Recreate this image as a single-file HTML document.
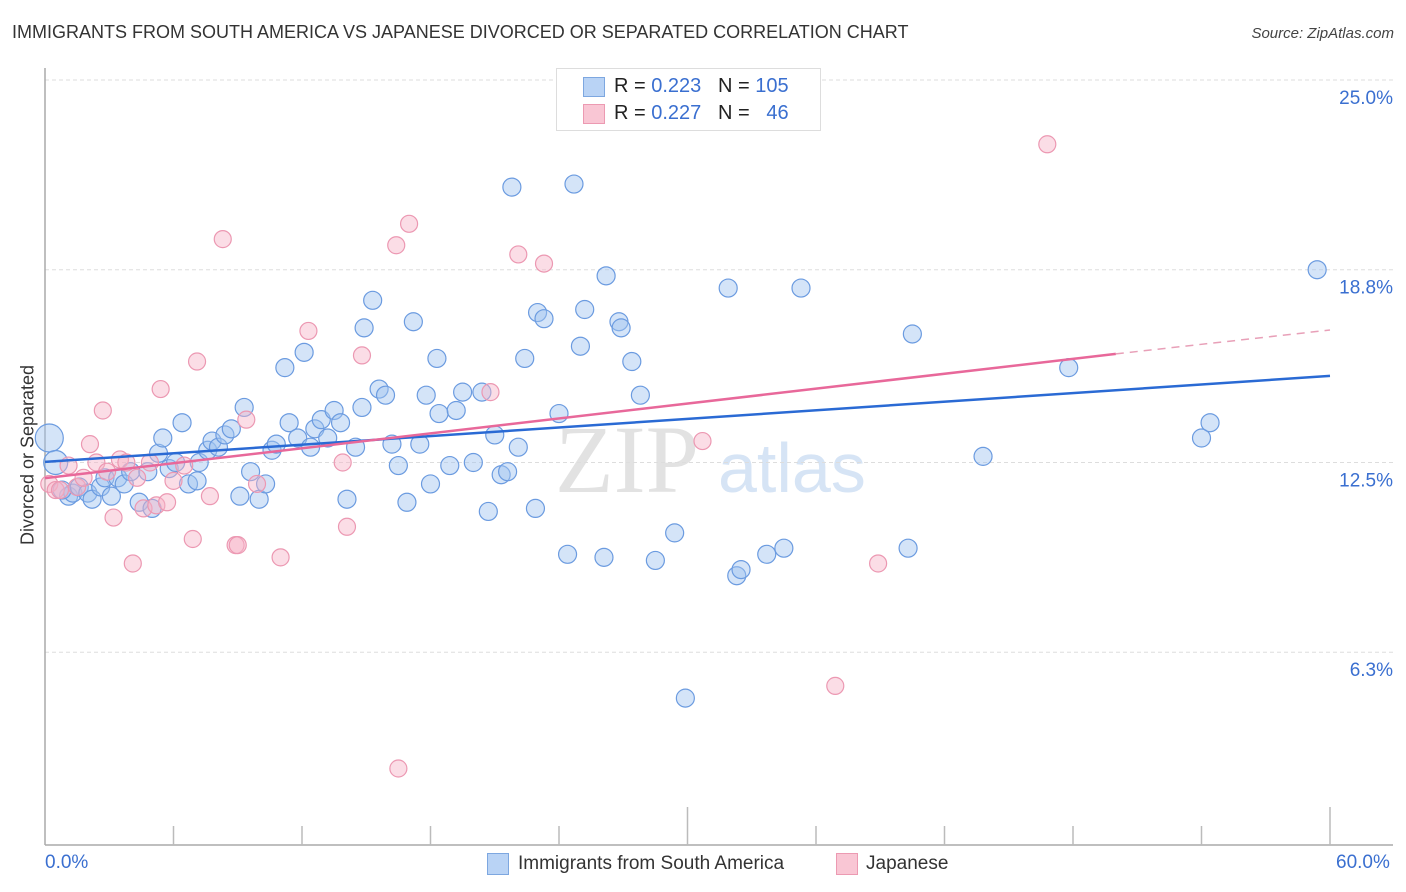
<!DOCTYPE html>
<html><head><meta charset="utf-8"><style>
body{margin:0;background:#fff;font-family:"Liberation Sans",sans-serif;}
#wrap{position:relative;width:1406px;height:892px;overflow:hidden;}
.t{position:absolute;white-space:nowrap;}
</style></head><body>
<div id="wrap">
<div class="t" style="left:12px;top:22px;font-size:18px;color:#333;">IMMIGRANTS FROM SOUTH AMERICA VS JAPANESE DIVORCED OR SEPARATED CORRELATION CHART</div>
<div class="t" style="right:12px;top:25px;font-size:15px;color:#444;font-style:italic;">Source: ZipAtlas.com</div>
<svg id="svg" width="1406" height="892" style="position:absolute;left:0;top:0">
<text x="555" y="492" font-family="Liberation Serif,serif" font-size="96" fill="#e2e2e2">ZIP</text>
<text x="718" y="492" font-family="Liberation Sans,sans-serif" font-size="70" fill="#d6e4f5">atlas</text>
</svg>
<div style="position:absolute;left:556px;top:68px;width:263px;height:61px;border:1px solid #ddd;background:#fff;">
<div style="position:absolute;left:26px;top:8px;width:20px;height:18px;background:#b9d3f5;border:1px solid #7da7e0;"></div>
<div class="t" style="left:57px;top:6px;font-size:20px;color:#222;">R = <span style="color:#3a6fd0">0.223</span>&nbsp;&nbsp;&nbsp;N = <span style="color:#3a6fd0">105</span></div>
<div style="position:absolute;left:26px;top:35px;width:20px;height:18px;background:#f9c6d4;border:1px solid #ec9ab2;"></div>
<div class="t" style="left:57px;top:33px;font-size:20px;color:#222;">R = <span style="color:#3a6fd0">0.227</span>&nbsp;&nbsp;&nbsp;N = &nbsp;&nbsp;<span style="color:#3a6fd0">46</span></div>
</div>
<div class="t" style="left:28px;top:455px;font-size:18px;color:#333;transform:translate(-50%,-50%) rotate(-90deg);">Divorced or Separated</div>
<div class="t" style="left:45px;top:852px;font-size:19px;color:#3a6fd0;">0.0%</div>
<div class="t" style="left:1336px;top:852px;font-size:19px;color:#3a6fd0;">60.0%</div>
<div style="position:absolute;left:487px;top:853px;width:20px;height:20px;background:#b9d3f5;border:1px solid #7da7e0;"></div>
<div class="t" style="left:518px;top:853px;font-size:19px;color:#333;">Immigrants from South America</div>
<div style="position:absolute;left:836px;top:853px;width:20px;height:20px;background:#f9c6d4;border:1px solid #ec9ab2;"></div>
<div class="t" style="left:866px;top:853px;font-size:19px;color:#333;">Japanese</div>
</div>
<script>
const yTicks=[25.0,18.8,12.5,6.3];
const yTickLabels=["25.0%","18.8%","12.5%","6.3%"];
const blueX=[0.2,0.5,1.1,1.3,0.8,1.6,2.0,2.2,2.6,2.8,3.1,3.4,3.7,4.0,4.4,4.8,5.0,5.3,5.5,5.8,6.1,6.4,6.7,7.1,7.2,7.6,7.8,8.1,8.4,8.7,9.1,9.3,9.6,10.0,10.3,10.6,10.8,11.2,11.4,11.8,12.1,12.4,12.6,12.9,13.2,13.5,13.8,14.1,14.5,14.8,14.9,15.3,15.6,15.9,16.2,16.5,16.9,17.2,17.5,17.8,18.0,18.3,18.4,18.9,19.2,19.5,20.0,20.4,20.7,21.0,21.3,21.6,21.8,22.1,22.4,22.9,23.0,23.3,24.0,24.4,24.7,25.0,25.2,26.1,26.2,26.8,26.9,27.4,27.8,28.5,29.4,29.9,31.9,32.3,32.5,33.7,34.5,35.3,40.3,40.5,43.8,47.8,54.0,54.4,59.4];
const blueY=[13.3,12.5,11.4,11.5,11.6,11.7,11.5,11.3,11.7,12.0,11.4,12.0,11.8,12.2,11.2,12.2,11.0,12.8,13.3,12.3,12.5,13.8,11.8,11.9,12.5,12.9,13.2,13.0,13.4,13.6,11.4,14.3,12.2,11.3,11.8,12.9,13.1,15.6,13.8,13.3,16.1,13.0,13.6,13.9,13.3,14.2,13.8,11.3,13.0,14.3,16.9,17.8,14.9,14.7,13.1,12.4,11.2,17.1,13.1,14.7,11.8,15.9,14.1,12.4,14.2,14.8,12.5,14.8,10.9,13.4,12.1,12.2,21.5,13.0,15.9,11.0,17.4,17.2,14.1,9.5,21.6,16.3,17.5,9.4,18.6,17.1,16.9,15.8,14.7,9.3,10.2,4.8,18.2,8.8,9.0,9.5,9.7,18.2,9.7,16.7,12.7,15.6,13.3,13.8,18.8];
const pinkX=[0.2,0.5,0.7,1.1,1.5,1.8,2.1,2.4,2.7,2.9,3.2,3.5,3.8,4.1,4.3,4.6,4.9,5.2,5.4,5.7,6.0,6.5,6.9,7.1,7.7,8.3,8.9,9.0,9.4,9.9,11.0,12.3,13.9,14.1,14.8,16.4,16.5,17.0,20.8,22.1,23.3,30.7,36.9,38.9,46.8];
const pinkY=[11.8,11.6,11.6,12.4,11.7,12.0,13.1,12.5,14.2,12.2,10.7,12.6,12.5,9.2,12.0,11.0,12.5,11.1,14.9,11.2,11.9,12.4,10.0,15.8,11.4,19.8,9.8,9.8,13.9,11.8,9.4,16.8,12.5,10.4,16.0,19.6,2.5,20.3,14.8,19.3,19.0,13.2,5.2,9.2,22.9];
const blueTrend=[[0,12.52],[60,15.33]];
const pinkTrend=[[0,11.99],[50,16.05]];
const pinkTrendExt=[[50,16.05],[60,16.83]];
const NS="http://www.w3.org/2000/svg";
const svg=document.getElementById('svg');
const X=v=>45+v/60*1285;
const Y=v=>80+(25-v)*30.6;
function mk(tag,attrs,name){const e=document.createElementNS(NS,tag);for(const k in attrs)e.setAttribute(k,attrs[k]);svg.appendChild(e);return e;}
yTicks.forEach((t,i)=>{
 mk('line',{x1:45,x2:1393,y1:Y(t),y2:Y(t),stroke:'#ddd','stroke-dasharray':'4,3'},'gridline');
 const tx=mk('text',{x:1393,y:Y(t)+24,'text-anchor':'end','font-size':19,fill:'#3a6fd0','font-family':'Liberation Sans,sans-serif'},'y-tick-label');
 tx.textContent=yTickLabels[i];
});
mk('line',{x1:45,x2:45,y1:68,y2:845,stroke:'#aaa','stroke-width':1.5},'y-axis');
mk('line',{x1:45,x2:1393,y1:845,y2:845,stroke:'#aaa','stroke-width':1.5},'x-axis');
for(let i=1;i<=10;i++){const x=X(i*6);mk('line',{x1:x,x2:x,y1:(i==5||i==10)?807:826,y2:845,stroke:'#bbb','stroke-width':1.5},'x-tick');}
blueX.forEach((v,i)=>{const r=i==0?14:(i==1?12:9);mk('circle',{cx:X(v),cy:Y(blueY[i]),r:r,fill:'rgba(160,196,240,0.45)',stroke:'#6b9be0','stroke-width':1.2},'point-blue');});
pinkX.forEach((v,i)=>{mk('circle',{cx:X(v),cy:Y(pinkY[i]),r:8.5,fill:'rgba(246,180,200,0.45)',stroke:'#ec98b2','stroke-width':1.2},'point-pink');});
mk('line',{x1:X(blueTrend[0][0]),y1:Y(blueTrend[0][1]),x2:X(blueTrend[1][0]),y2:Y(blueTrend[1][1]),stroke:'#2a6ad4','stroke-width':2.5},'trend-blue');
mk('line',{x1:X(pinkTrend[0][0]),y1:Y(pinkTrend[0][1]),x2:X(pinkTrend[1][0]),y2:Y(pinkTrend[1][1]),stroke:'#e8689a','stroke-width':2.5},'trend-pink');
mk('line',{x1:X(pinkTrendExt[0][0]),y1:Y(pinkTrendExt[0][1]),x2:X(pinkTrendExt[1][0]),y2:Y(pinkTrendExt[1][1]),stroke:'#e8a0b8','stroke-width':1.5,'stroke-dasharray':'8,6'},'trend-pink-extension');
</script>
</body></html>
